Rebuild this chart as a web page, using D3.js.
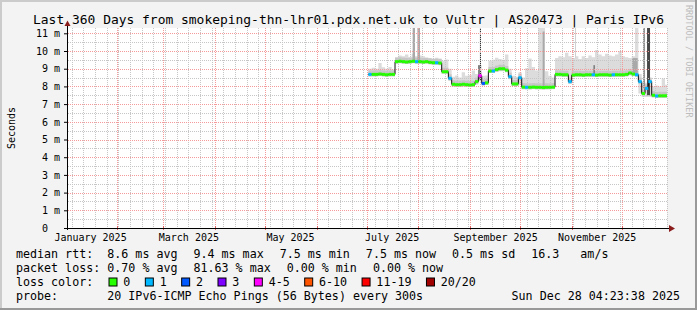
<!DOCTYPE html>
<html>
<head>
<meta charset="utf-8">
<script src="https://cdn.jsdelivr.net/npm/d3@7"></script>
<style>
    body { margin: 0; background: #f3f3f3; }
    svg text { font-family: "DejaVu Sans Mono", monospace; fill: #000; }
</style>
</head>
<body>
<svg id="chart"></svg>
<script>
// graph window (last 360 days)
const endTime = "2025-12-28T04:23:38Z"
const titleText = "Last 360 Days from smokeping-thn-lhr01.pdx.net.uk to Vultr | AS20473 | Paris IPv6"

// 2-day consolidated bins, values in ms
const binDates = [
    "2025-07-02","2025-07-04","2025-07-06","2025-07-08","2025-07-10","2025-07-12","2025-07-14","2025-07-16",
    "2025-07-18","2025-07-20","2025-07-22","2025-07-24","2025-07-26","2025-07-28","2025-07-30","2025-08-01",
    "2025-08-03","2025-08-05","2025-08-07","2025-08-09","2025-08-11","2025-08-13","2025-08-15","2025-08-17",
    "2025-08-19","2025-08-21","2025-08-23","2025-08-25","2025-08-27","2025-08-29","2025-08-31","2025-09-02",
    "2025-09-04","2025-09-06","2025-09-08","2025-09-10","2025-09-12","2025-09-14","2025-09-16","2025-09-18",
    "2025-09-20","2025-09-22","2025-09-24","2025-09-26","2025-09-28","2025-09-30","2025-10-02","2025-10-04",
    "2025-10-06","2025-10-08","2025-10-10","2025-10-12","2025-10-14","2025-10-16","2025-10-18","2025-10-20",
    "2025-10-22","2025-10-24","2025-10-26","2025-10-28","2025-10-30","2025-11-01","2025-11-03","2025-11-05",
    "2025-11-07","2025-11-09","2025-11-11","2025-11-13","2025-11-15","2025-11-17","2025-11-19","2025-11-21",
    "2025-11-23","2025-11-25","2025-11-27","2025-11-29","2025-12-01","2025-12-03","2025-12-05","2025-12-07",
    "2025-12-09","2025-12-11","2025-12-13","2025-12-15","2025-12-17","2025-12-19","2025-12-21","2025-12-23",
    "2025-12-25","2025-12-27"
]
const medianRtt = [
    8.68,8.68,8.68,8.70,8.68,8.66,8.68,8.68,
    9.40,9.42,9.40,9.38,9.40,9.42,9.40,9.40,
    9.38,9.40,9.36,9.34,9.34,9.32,8.83,8.83,
    8.46,8.12,8.10,8.10,8.12,8.10,8.08,8.10,
    8.27,8.60,8.17,8.20,8.87,8.87,8.95,9.00,
    9.00,8.92,8.55,8.14,8.14,8.49,7.96,7.95,
    7.95,7.96,7.95,7.95,7.94,7.95,7.95,7.96,
    8.68,8.68,8.66,8.66,8.27,8.64,8.66,8.66,
    8.64,8.66,8.66,8.66,8.64,8.66,8.66,8.66,
    8.64,8.66,8.66,8.66,8.66,8.68,8.76,8.70,
    8.66,8.27,7.60,7.89,8.27,7.50,7.46,7.47,
    7.47,7.47
]
const smokeLo = [
    8.56,8.58,8.58,8.60,8.58,8.56,8.58,8.58,
    9.30,9.32,9.30,9.28,9.30,9.32,9.28,9.30,
    9.28,9.30,9.26,9.24,9.22,9.20,8.74,8.72,
    8.30,7.98,7.98,7.96,8.00,7.98,7.96,7.98,
    8.10,8.30,8.05,8.08,8.76,8.76,8.82,8.86,
    8.86,8.80,8.40,8.04,8.04,8.10,7.84,7.84,
    7.83,7.85,7.84,7.84,7.82,7.84,7.84,7.85,
    8.56,8.56,8.54,8.55,8.15,8.54,8.56,8.55,
    8.54,8.56,8.55,8.54,8.54,8.56,8.55,8.55,
    8.54,8.55,8.56,8.55,8.56,8.57,8.62,8.58,
    8.55,7.60,7.40,7.40,7.40,7.38,7.36,7.37,
    7.37,7.37
]
const smokeHi = [
    9.00,9.05,9.00,9.32,9.08,9.00,9.10,8.95,
    9.65,9.75,9.70,9.80,9.65,9.85,9.70,9.75,
    9.70,9.60,9.60,9.55,9.62,9.58,9.45,9.52,
    9.00,8.55,8.62,8.50,8.80,8.60,8.65,8.90,
    8.70,9.20,8.60,8.62,9.45,9.50,9.62,9.55,
    9.50,9.80,9.00,8.60,8.55,8.80,8.50,9.02,
    9.58,9.10,8.90,11.30,11.30,8.85,8.60,8.50,
    9.60,9.70,9.65,9.90,9.70,9.60,9.70,9.55,
    9.70,9.60,9.75,9.65,10.05,9.80,9.70,9.85,
    9.75,9.70,9.80,10.00,9.70,9.65,9.60,9.70,
    11.30,8.70,8.20,8.20,8.30,8.00,8.05,8.00,
    8.45,8.10
]
// index into lossLabels
const lossBin = [
    1,0,0,0,0,0,0,0,
    0,0,0,0,0,0,1,0,
    0,0,0,0,1,0,0,0,
    1,0,0,0,0,0,0,0,
    0,4,2,0,0,1,0,0,
    0,0,1,0,0,1,0,1,
    0,0,0,0,0,0,0,0,
    0,0,0,0,1,0,0,0,
    0,0,0,1,0,0,0,0,
    0,1,0,0,0,0,0,0,
    1,1,0,1,1,0,1,0,
    0,0
]

// short bursts where many of the 20 pings were slow
const spikeFrom = ["2025-07-28T14:00Z","2025-07-31T10:00Z","2025-09-05T19:00Z","2025-09-06T23:00Z","2025-10-14T14:00Z",
                   "2025-11-03T00:00Z","2025-11-14T00:00Z","2025-12-07T05:00Z","2025-12-13T19:00Z","2025-12-16T05:00Z"]
const spikeTo   = ["2025-07-30T00:00Z","2025-08-02T00:00Z","2025-09-06T23:00Z","2025-09-07T14:00Z","2025-10-15T17:00Z",
                   "2025-11-03T14:00Z","2025-11-15T00:00Z","2025-12-10T14:00Z","2025-12-15T00:00Z","2025-12-18T00:00Z"]
const spikeLo   = [9.45, 9.45, 8.40, 8.30, 8.00, 9.60, 8.70, 8.70, 7.90, 7.50]
const spikeHi   = [11.3, 11.3, 9.20, 11.3, 11.1, 11.3, 9.20, 9.60, 11.3, 11.3]
const spikeHits = [3, 3, 5, 9, 3, 1, 5, 3, 4, 8]

const yTicks = [0, 1, 2, 3, 4, 5, 6, 7, 8, 9, 10, 11]
const yTickLabels = ["0", "1 m", "2 m", "3 m", "4 m", "5 m", "6 m", "7 m", "8 m", "9 m", "10 m", "11 m"]
const monthLabels = ["January 2025", "March 2025", "May 2025", "July 2025", "September 2025", "November 2025"]

const lossLabels = ["0", "1", "2", "3", "4-5", "6-10", "11-19", "20/20"]
const lossColors = ["#26ff00", "#00b8ff", "#0059ff", "#7e00ff", "#ff00ff", "#ff5500", "#ff0000", "#a10000"]

const rttStats = ["8.6 ms avg", "9.4 ms max", "7.5 ms min", "7.5 ms now", "0.5 ms sd", "16.3   am/s"]
const lossStats = ["0.70 % avg", "81.63 % max", "0.00 % min", "0.00 % now"]
const probeText = "20 IPv6-ICMP Echo Pings (56 Bytes) every 300s"
const stampText = "Sun Dec 28 04:23:38 2025"

// ---- layout
const W = 697, H = 310
const plotL = 67, plotR = 667, plotT = 28, plotB = 228
const svg = d3.select("#chart").attr("width", W).attr("height", H)

const tEnd = new Date(endTime)
const tStart = d3.utcDay.offset(tEnd, -360)
const x = d3.scaleUtc().domain([tStart, tEnd]).range([plotL, plotR])
const y = d3.scaleLinear().domain([0, 11.3]).range([plotB, plotT])
const lossColor = d3.scaleOrdinal().domain(d3.range(lossLabels.length)).range(lossColors)
const smokeGray = d3.scaleLinear().domain([1, 10]).range(["#d0d0d0", "#202020"])

// dotted grid patterns (1px dot every 2px)
const defs = svg.append("defs")
function dots(id, w, h, color) {
    defs.append("pattern").attr("id", id).attr("patternUnits", "userSpaceOnUse")
        .attr("width", w).attr("height", h)
        .append("rect").attr("width", 1).attr("height", 1).attr("fill", color)
}
dots("minH", 2, 1, "#c6c6c6")
dots("minV", 1, 2, "#c6c6c6")
dots("majH", 2, 1, "#f59a9a")
dots("majV", 1, 2, "#f59a9a")

// frame
svg.append("rect").attr("width", W).attr("height", H).attr("fill", "#f3f3f3")
svg.append("rect").attr("width", W).attr("height", 2).attr("fill", "#cbcbcb")
svg.append("rect").attr("width", 2).attr("height", H).attr("fill", "#cbcbcb")
svg.append("rect").attr("y", H - 2).attr("width", W).attr("height", 2).attr("fill", "#999")
svg.append("rect").attr("x", W - 2).attr("width", 2).attr("height", H).attr("fill", "#999")

svg.append("text")
    .attr("x", W / 2).attr("y", 24)
    .attr("text-anchor", "middle")
    .style("font-size", "12.95px")
    .text(titleText)

svg.append("rect")
    .attr("x", plotL).attr("y", plotT)
    .attr("width", plotR - plotL).attr("height", plotB - plotT)
    .attr("fill", "#fff")

svg.append("clipPath").attr("id", "plot")
    .append("rect").attr("x", plotL).attr("y", plotT)
    .attr("width", plotR - plotL).attr("height", plotB - plotT)

const bins = binDates.map((d, i) => ({
    t0: new Date(d + "T00:00Z"),
    t1: i < binDates.length - 1 ? new Date(binDates[i + 1] + "T00:00Z") : d3.utcDay.offset(new Date(d + "T00:00Z"), 2),
    med: medianRtt[i], lo: smokeLo[i], hi: smokeHi[i], loss: lossBin[i]
}))
const stepPts = bins.map(b => ({ t: b.t0, b })).concat([{ t: bins[bins.length - 1].t1, b: bins[bins.length - 1] }])

const smoke = svg.append("g").attr("clip-path", "url(#plot)")

// outer smoke
smoke.append("path")
    .datum(stepPts)
    .attr("fill", "#dcdcdc")
    .attr("d", d3.area().curve(d3.curveStepAfter)
        .x(d => x(d.t)).y0(d => y(d.b.lo)).y1(d => y(d.b.hi)))

// inner smoke near the median
smoke.append("g").selectAll("line").data(bins).join("line")
    .attr("x1", d => x(d.t0)).attr("x2", d => x(d.t1))
    .attr("y1", d => y(d.med) - 1).attr("y2", d => y(d.med) - 1)
    .attr("stroke", "#c6c6c6").attr("stroke-width", 6)

// slow-ping bursts
smoke.append("g").selectAll("rect").data(spikeFrom).join("rect")
    .attr("x", (d, i) => x(new Date(d)))
    .attr("width", (d, i) => Math.max(1, x(new Date(spikeTo[i])) - x(new Date(d))))
    .attr("y", (d, i) => y(spikeHi[i]))
    .attr("height", (d, i) => y(spikeLo[i]) - y(spikeHi[i]))
    .attr("fill", (d, i) => smokeGray(spikeHits[i]))

// grid
const grid = svg.append("g").attr("shape-rendering", "crispEdges")
const minorY = d3.range(0.5, 11.3, 1)
const months = d3.utcMonth.range(tStart, tEnd)
grid.selectAll(".hmin").data(minorY).join("rect")
    .attr("x", plotL).attr("width", plotR - plotL)
    .attr("y", d => Math.round(y(d))).attr("height", 1)
    .attr("fill", "url(#minH)")
grid.selectAll(".vmin").data(d3.utcSunday.range(tStart, tEnd)).join("rect")
    .attr("x", d => Math.round(x(d))).attr("width", 1)
    .attr("y", plotT).attr("height", plotB - plotT)
    .attr("fill", "url(#minV)")
grid.selectAll(".hmaj").data(yTicks.slice(1)).join("rect")
    .attr("x", plotL).attr("width", plotR - plotL)
    .attr("y", d => Math.round(y(d))).attr("height", 1)
    .attr("fill", "url(#majH)")
grid.selectAll(".vmaj").data(months).join("rect")
    .attr("x", d => Math.round(x(d))).attr("width", 1)
    .attr("y", plotT).attr("height", plotB - plotT)
    .attr("fill", "url(#majV)")

// median rtt: thin dark step line, then loss-coloured segments (above the grid)
const med = svg.append("g").attr("clip-path", "url(#plot)")
med.append("path")
    .datum(stepPts)
    .attr("fill", "none").attr("stroke", "#111").attr("stroke-width", 1)
    .attr("d", d3.line().curve(d3.curveStepAfter).x(d => x(d.t)).y(d => y(d.b.med)))
med.append("g").selectAll("line").data(bins).join("line")
    .attr("x1", d => x(d.t0)).attr("x2", d => x(d.t1))
    .attr("y1", d => y(d.med)).attr("y2", d => y(d.med))
    .attr("stroke", d => lossColor(d.loss)).attr("stroke-width", 3)

// axes
const yAxis = svg.append("g")
    .attr("transform", "translate(" + plotL + ",0)")
    .call(d3.axisLeft(y).tickValues(yTicks).tickSize(3).tickPadding(4)
        .tickFormat((d, i) => yTickLabels[i]))
yAxis.select(".domain").remove()
yAxis.selectAll("text").style("font-size", "10px").attr("fill", "#000")
yAxis.selectAll("text").filter(d => d === 0).attr("dx", -12)

const labelDates = d3.utcMonth.every(2).range(d3.utcYear.floor(tStart), tEnd).map(m => d3.utcDay.offset(m, 15))
const xAxis = svg.append("g")
    .attr("transform", "translate(0," + plotB + ")")
    .call(d3.axisBottom(x).tickValues(labelDates).tickSize(0).tickPadding(6)
        .tickFormat((d, i) => monthLabels[i]))
xAxis.select(".domain").remove()
xAxis.selectAll("text").style("font-size", "10px").attr("fill", "#000")

svg.append("g").selectAll("line").data(months).join("line")
    .attr("x1", d => Math.round(x(d)) + 0.5).attr("x2", d => Math.round(x(d)) + 0.5)
    .attr("y1", plotB - 2).attr("y2", plotB + 2)
    .attr("stroke", "#e06060")

svg.append("line").attr("x1", plotL + 0.5).attr("x2", plotL + 0.5)
    .attr("y1", plotB + 2).attr("y2", 24).attr("stroke", "#000")
svg.append("line").attr("x1", plotL - 3).attr("x2", 671)
    .attr("y1", plotB + 0.5).attr("y2", plotB + 0.5).attr("stroke", "#000")
svg.append("path").attr("d", "M64.5,26 L67.5,20.5 L70.5,26 Z").attr("fill", "#8b1c1c")
svg.append("path").attr("d", "M669,225 L675,228.5 L669,232 Z").attr("fill", "#8b1c1c")

svg.append("text")
    .attr("transform", "translate(15," + ((plotT + plotB) / 2) + ") rotate(-90)")
    .attr("text-anchor", "middle")
    .style("font-size", "10px")
    .text("Seconds")

svg.append("text")
    .attr("transform", "translate(686,5) rotate(90)")
    .style("font-size", "8.5px")
    .style("fill", "#bdbdbd")
    .text("RRDTOOL / TOBI OETIKER")

// legend
const fs = "11.66px", colX = 16, valX = 107.3, gap = 16
const rows = [258, 272, 286, 299.5]
function legendRow(yPos, label, items) {
    svg.append("text").attr("x", colX).attr("y", yPos).style("font-size", fs).text(label)
    let cx = valX
    items.forEach(s => {
        const t = svg.append("text").attr("x", cx).attr("y", yPos)
            .style("font-size", fs).style("white-space", "pre").text(s)
        cx += t.node().getComputedTextLength() + gap
    })
}
legendRow(rows[0], "median rtt:", rttStats)
legendRow(rows[1], "packet loss:", lossStats)

svg.append("text").attr("x", colX).attr("y", rows[2]).style("font-size", fs).text("loss color:")
let lx = 109
lossLabels.forEach((lab, i) => {
    svg.append("rect").attr("x", lx).attr("y", rows[2] - 8).attr("width", 8).attr("height", 8)
        .attr("fill", lossColor(i)).attr("stroke", "#000").attr("stroke-width", 1)
    const t = svg.append("text").attr("x", lx + 14.3).attr("y", rows[2]).style("font-size", fs).text(lab)
    lx += 14.3 + t.node().getComputedTextLength() + 15
})

svg.append("text").attr("x", colX).attr("y", rows[3]).style("font-size", fs).text("probe:")
svg.append("text").attr("x", valX).attr("y", rows[3]).style("font-size", fs).text(probeText)
svg.append("text").attr("x", 680).attr("y", rows[3]).attr("text-anchor", "end").style("font-size", fs).text(stampText)
</script>
</body>
</html>
